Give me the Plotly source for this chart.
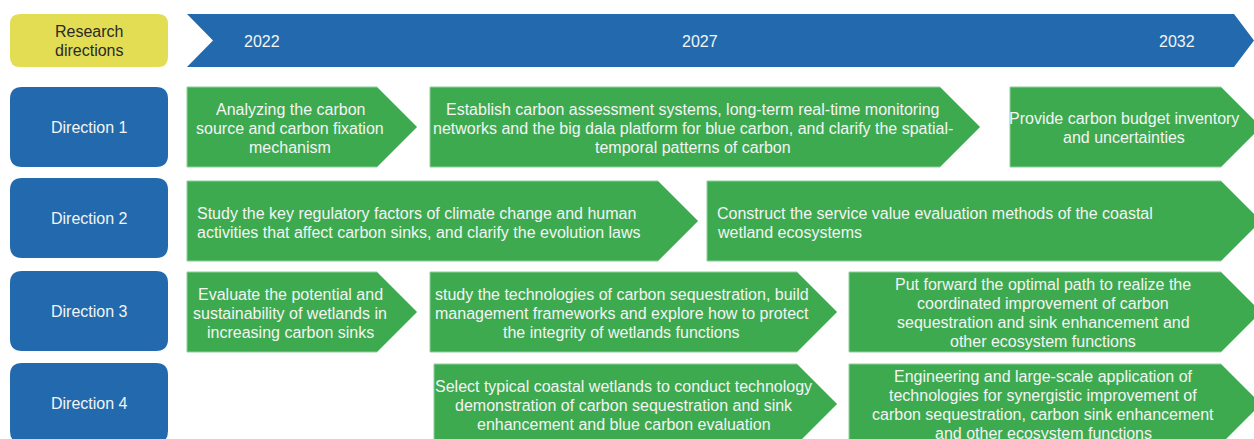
import plotly.graph_objects as go

# ---------------- data ----------------
header_label = "Research<br>directions"
years = ["2022", "2027", "2032"]
directions = ["Direction 1", "Direction 2", "Direction 3", "Direction 4"]

task_row = [0, 0, 0, 1, 1, 2, 2, 2, 3, 3]
task_start = [187, 430, 1010, 187, 707, 187, 430, 849, 434, 849]
task_end = [377, 940, 1221, 658, 1221, 377, 797, 1221, 797, 1221]
task_align = ["center", "center", "center", "left", "left",
              "center", "center", "center", "center", "center"]
task_text = [
    "Analyzing the carbon<br>source and carbon fixation<br>mechanism",
    "Establish carbon assessment systems, long-term real-time monitoring<br>"
    "networks and the big dala platform for blue carbon, and clarify the spatial-<br>"
    "temporal patterns of carbon",
    "Provide carbon budget inventory<br>and uncertainties",
    "Study the key regulatory factors of climate change and human<br>"
    "activities that affect carbon sinks, and clarify the evolution laws",
    "Construct the service value evaluation methods of the coastal<br>wetland ecosystems",
    "Evaluate the potential and<br>sustainability of wetlands in<br>increasing carbon sinks",
    "study the technologies of carbon sequestration, build<br>"
    "management frameworks and explore how to protect<br>the integrity of wetlands functions",
    "Put forward the optimal path to realize the<br>coordinated improvement of carbon<br>"
    "sequestration and sink enhancement and<br>other ecosystem functions",
    "Select typical coastal wetlands to conduct technology<br>"
    "demonstration of carbon sequestration and sink<br>enhancement and blue carbon evaluation",
    "Engineering and large-scale application of<br>technologies for synergistic improvement of<br>"
    "carbon sequestration, carbon sink enhancement<br>and other ecosystem functions",
]

# ---------------- layout constants ----------------
W, H = 1254, 439
BLUE = "#226aad"
GREEN = "#3daa50"
YELLOW = "#e2dd53"
TXT = "#f4f4f4"
FONT = "Liberation Sans, Arial, sans-serif"
FS = 16
LS = 19

row_top = [87, 181, 272, 364]
box_top = [87, 178, 271, 363]
row_h = 80
head_w = 40
year_x = [262, 700, 1177]
box_x0, box_x1 = 10, 168
hdr_y0, hdr_y1 = 14, 67
hdr_x0, hdr_x1, hdr_notch, hdr_tip = 187, 1234, 26, 20


def rrect(x0, y0, x1, y1, r):
    return (f"M {x0+r},{y0} L {x1-r},{y0} Q {x1},{y0} {x1},{y0+r} "
            f"L {x1},{y1-r} Q {x1},{y1} {x1-r},{y1} L {x0+r},{y1} "
            f"Q {x0},{y1} {x0},{y1-r} L {x0},{y0+r} Q {x0},{y0} {x0+r},{y0} Z")


annotations = []


def add_text(x, yc, text, color, align="center"):
    lines = text.split("<br>")
    n = len(lines)
    for k, ln in enumerate(lines):
        annotations.append(dict(
            x=x, y=yc + (k - (n - 1) / 2) * LS, text=ln, showarrow=False,
            font=dict(family=FONT, size=FS, color=color),
            xanchor="left" if align == "left" else "center", yanchor="middle"))


fig = go.Figure()
shapes = []

# header: yellow box + blue timeline chevron
shapes.append(dict(type="path", path=rrect(box_x0, hdr_y0, box_x1, hdr_y1, 10),
                   fillcolor=YELLOW, line=dict(width=0), layer="below"))
add_text((box_x0 + box_x1) / 2, (hdr_y0 + hdr_y1) / 2, header_label, "#2a2a2a")
ym = (hdr_y0 + hdr_y1) / 2
fig.add_trace(go.Scatter(
    x=[hdr_x0, hdr_x1, hdr_x1 + hdr_tip, hdr_x1, hdr_x0, hdr_x0 + hdr_notch, hdr_x0],
    y=[hdr_y0, hdr_y0, ym, hdr_y1, hdr_y1, ym, hdr_y0],
    mode="lines", fill="toself", fillcolor=BLUE, line=dict(width=0),
    hoverinfo="skip", showlegend=False))
for yr, xx in zip(years, year_x):
    add_text(xx, ym + 1, yr, TXT)

# direction boxes
for i, d in enumerate(directions):
    y0 = box_top[i]
    shapes.append(dict(type="path", path=rrect(box_x0, y0, box_x1, y0 + row_h, 12),
                       fillcolor=BLUE, line=dict(width=0), layer="below"))
    add_text((box_x0 + box_x1) / 2, y0 + row_h / 2, d, TXT)

# task arrows
for r, s, e, al, t in zip(task_row, task_start, task_end, task_align, task_text):
    y0 = row_top[r]
    y1 = y0 + row_h
    yc = (y0 + y1) / 2
    fig.add_trace(go.Scatter(
        x=[s, e, e + head_w, e, s, s],
        y=[y0, y0, yc, y1, y1, y0],
        mode="lines", fill="toself", fillcolor=GREEN,
        line=dict(width=1, color="#8fcf9a"),
        hoverinfo="skip", showlegend=False))
    if al == "left":
        add_text(s + 8, yc + 2, t, TXT, "left")
    else:
        add_text((s + e) / 2 + 8, yc + 1, t, TXT)

fig.update_layout(
    width=W, height=H, margin=dict(l=0, r=0, t=0, b=0),
    paper_bgcolor="white", plot_bgcolor="white",
    xaxis=dict(range=[0, W], visible=False, fixedrange=True),
    yaxis=dict(range=[H, 0], visible=False, fixedrange=True),
    shapes=shapes, annotations=annotations, showlegend=False,
)

fig.write_html("out.html", config={"displayModeBar": False},
               post_script="document.body.style.margin='0';document.body.style.overflow='hidden';")
